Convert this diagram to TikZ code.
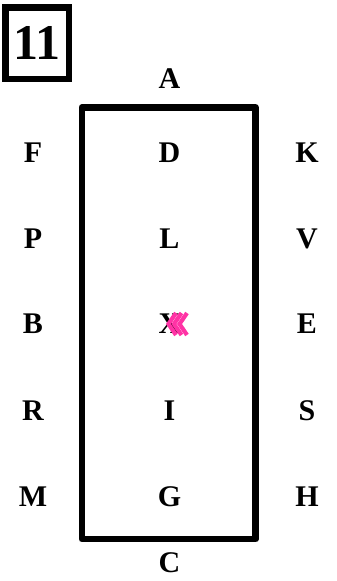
\documentclass[tikz,border=0pt]{standalone}
\usepackage{fontspec}
\setmainfont{Liberation Serif}
\usetikzlibrary{calc}
\definecolor{chevpink}{RGB}{255,51,165}

\begin{document}
\begin{tikzpicture}[x=1pt,y=-1pt,
        letter/.style={
        font=\fontsize{30}{30}\selectfont\bfseries,
        inner sep=0pt},
        numbox/.style={
        draw=black, line width=6.5pt,
        minimum width=63.5pt, minimum height=71.5pt,
        inner sep=0pt,
        font=\fontsize{50}{50}\selectfont\bfseries},
        chev/.style={
        draw=chevpink, line width=4.2pt},
        ]
        \useasboundingbox (0,0) rectangle (337,581);

        \node (num) [numbox] at (37,43){11};

        % outer letters
        \node (A) [letter] at (169.5,79){A};
        \node (C) [letter] at (169.5,563){C};

        \node (F) [letter] at (33,153){F};
        \node (P) [letter] at (33,239){P};
        \node (B) [letter] at (33,324){B};
        \node (R) [letter] at (33,411){R};
        \node (M) [letter] at (33,497){M};

        \node (K) [letter] at (307,153){K};
        \node (V) [letter] at (307,239){V};
        \node (E) [letter] at (307,324){E};
        \node (S) [letter] at (307,411){S};
        \node (H) [letter] at (307,497){H};

        % inside the box
        \node (D) [letter] at (169.5,153){D};
        \node (L) [letter] at (169.5,239){L};
        \node (X) [letter] at (169.5,324){X};
        \node (I) [letter] at (169.5,411){I};
        \node (G) [letter] at (169.5,497){G};

        \coordinate (tl) at (82,107.5);
        \coordinate (br) at (255.5,539);
        \draw [line width=6.8pt, line join=round] (tl) rectangle (br);

        \foreach \i in {0,1,2}
          \draw [chev] ($(X.center)+(6.5+5.5*\i,-11)$) -- ($(X.center)+(-1+5.5*\i,0)$) -- ($(X.center)+(6.5+5.5*\i,11)$);
    \end{tikzpicture}
\end{document}
